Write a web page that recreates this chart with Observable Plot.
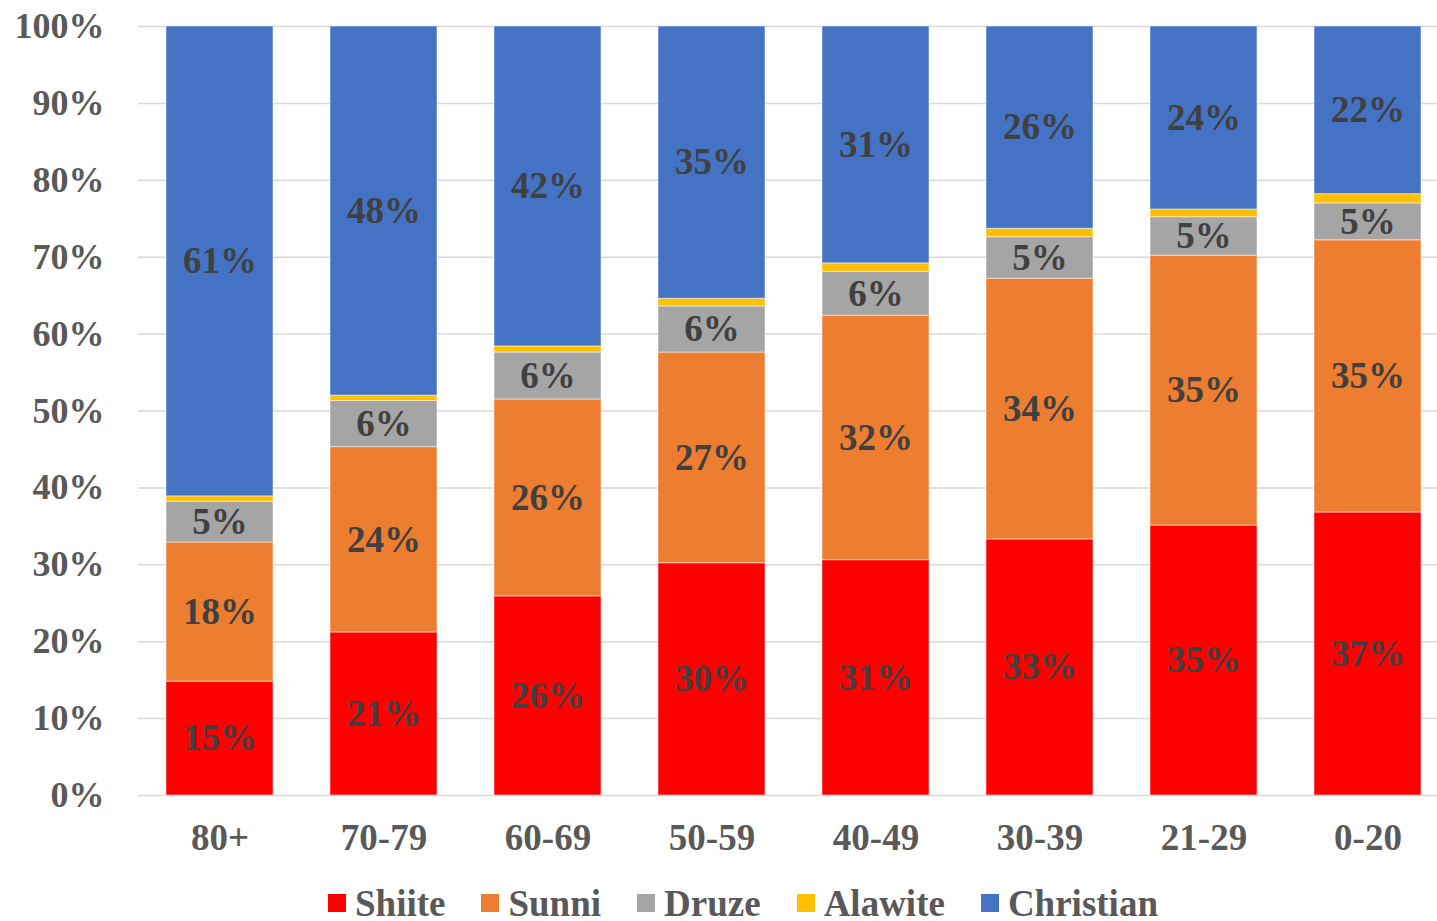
<!DOCTYPE html>
<html>
<head>
<meta charset="utf-8">
<script src="https://cdn.jsdelivr.net/npm/d3@7"></script>
<script src="https://cdn.jsdelivr.net/npm/@observablehq/plot@0.6"></script>
<style>
  body { margin: 0; background: #fff; font-family: "Liberation Serif", "Times New Roman", serif; }
  #chart svg { display: block; }
  .legend { display: flex; align-items: center; margin-left: 328px; height: 56px; margin-top: 10px; }
  .item { display: flex; align-items: center; margin-right: 36px; font-weight: bold; font-size: 37px; color: #595959; font-family: "Liberation Serif", serif; }
  .sw { width: 18px; height: 18px; margin-right: 9px; }
</style>
</head>
<body>
<div id="chart"></div>
<div class="legend" id="legend"></div>
<script>
const categories = ["80+", "70-79", "60-69", "50-59", "40-49", "30-39", "21-29", "0-20"];
const seriesNames = ["Shiite", "Sunni", "Druze", "Alawite", "Christian"];
const seriesColors = ["#FF0000", "#ED7D31", "#A5A5A5", "#FFC000", "#4472C4"];
const shiite    = [14.8, 21.2, 25.9, 30.2, 30.6, 33.3, 35.1, 36.8];
const sunni     = [18.1, 24.1, 25.6, 27.4, 31.8, 33.9, 35.1, 35.4];
const druze     = [5.3, 6.0, 6.1, 6.0, 5.7, 5.4, 5.0, 4.8];
const alawite   = [0.7, 0.7, 0.8, 1.0, 1.1, 1.1, 1.0, 1.2];
const christian = [61.1, 48.0, 41.6, 35.4, 30.8, 26.3, 23.8, 21.8];
const yTicks = [0, 10, 20, 30, 40, 50, 60, 70, 80, 90, 100];

const seriesValues = [shiite, sunni, druze, alawite, christian];
const data = [];
categories.forEach((c, i) => {
  seriesNames.forEach((s, j) => data.push({age: c, religion: s, value: seriesValues[j][i]}));
});

const font = "Liberation Serif, Times New Roman, serif";
const chart = Plot.plot({
  width: 1437,
  height: 865,
  marginLeft: 138,
  marginRight: 0,
  marginTop: 26,
  marginBottom: 70,
  style: {fontFamily: font, fontWeight: "bold", background: "#fff"},
  x: {domain: categories, range: [137.5, 1449.5], paddingInner: 0.348, paddingOuter: 0.174, label: null},
  y: {domain: [0, 100], label: null},
  color: {domain: seriesNames, range: seriesColors},
  marks: [
    Plot.gridY(yTicks, {stroke: "#d9d9d9", strokeOpacity: 1, strokeWidth: 1.5}),
    Plot.barY(data, Plot.stackY({x: "age", y: "value", fill: "religion", order: seriesNames, stroke: "#fff", strokeOpacity: 0.5, strokeWidth: 1})),
    Plot.text(data, Plot.stackY({
      x: "age", y: "value", z: "religion", order: seriesNames,
      text: d => d.religion === "Alawite" ? "" : Math.round(d.value) + "%",
      fill: "#404040", fontSize: 37, fontWeight: "bold", fontFamily: font
    })),
    Plot.axisY(yTicks, {tickSize: 0, tickPadding: 34, tickFormat: d => d + "%", fontSize: 36, fill: "#595959", label: null}),
    Plot.axisX({tickSize: 0, tickPadding: 28, fontSize: 37, fill: "#595959", label: null})
  ]
});
document.getElementById("chart").appendChild(chart);

const legend = document.getElementById("legend");
seriesNames.forEach((s, j) => {
  const it = document.createElement("div");
  it.className = "item";
  const sw = document.createElement("div");
  sw.className = "sw";
  sw.style.background = seriesColors[j];
  const t = document.createElement("span");
  t.textContent = s;
  it.appendChild(sw);
  it.appendChild(t);
  legend.appendChild(it);
});
</script>
</body>
</html>
